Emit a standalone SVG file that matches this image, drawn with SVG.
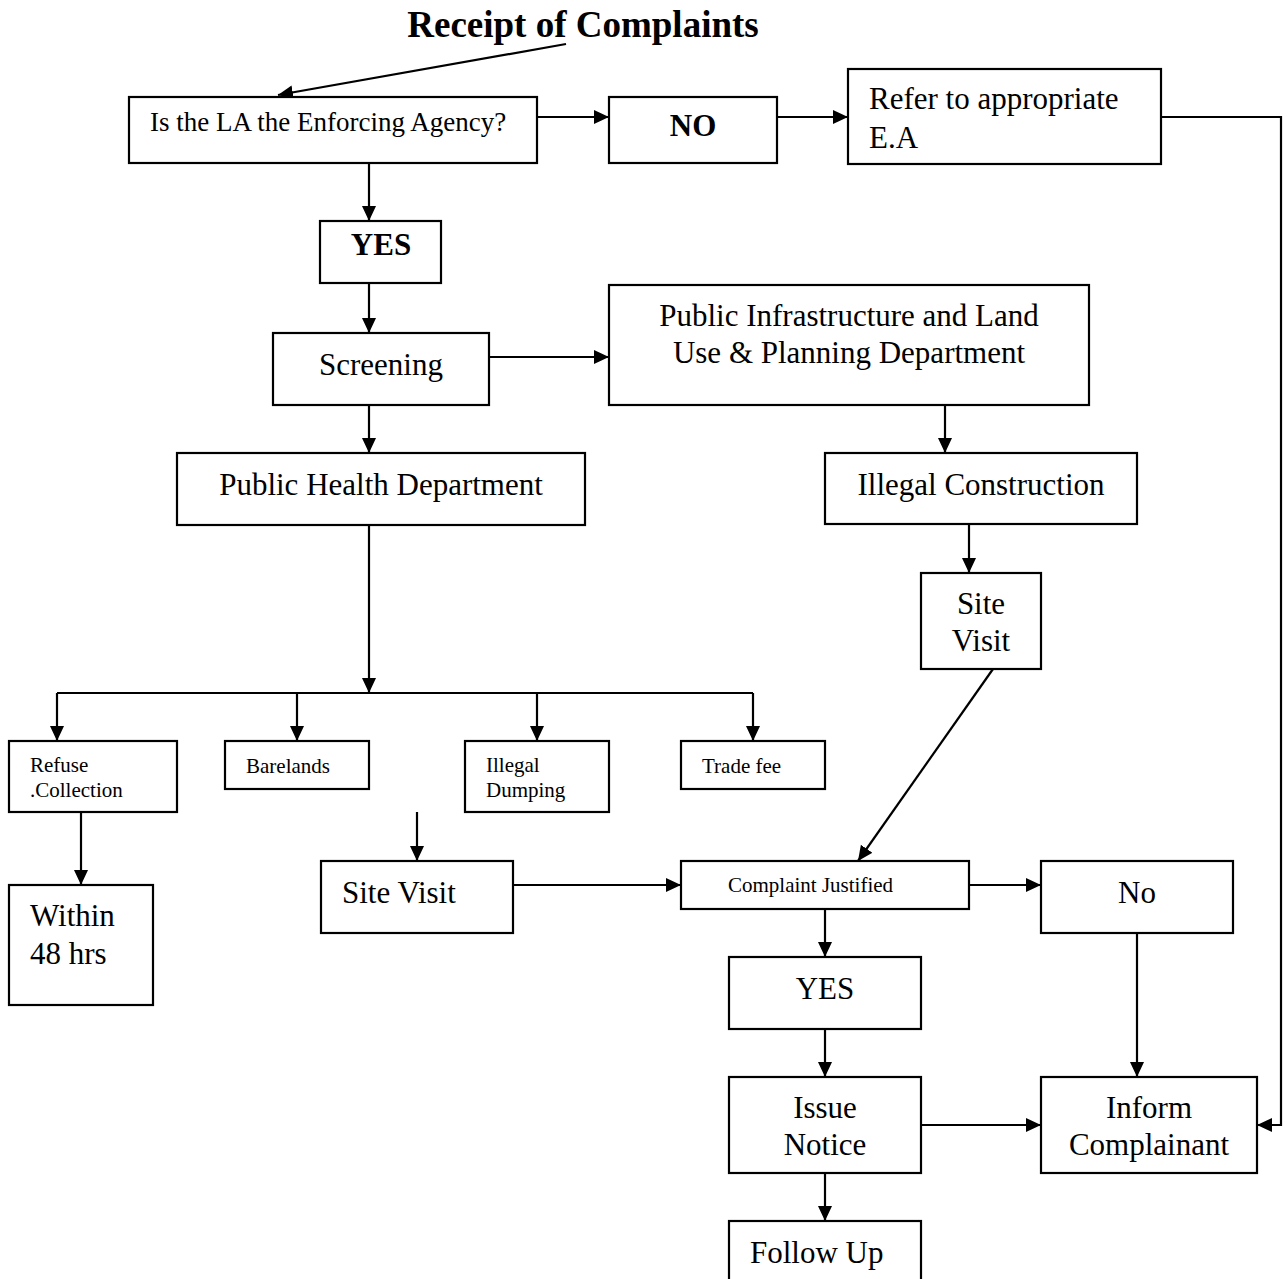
<svg xmlns="http://www.w3.org/2000/svg" width="1288" height="1279" viewBox="0 0 1288 1279">
<style>
rect{fill:#fff;stroke:#000;stroke-width:2.2}
text{font-family:"Liberation Serif","Times New Roman",serif;fill:#000}
.m{font-size:31px}
.s{font-size:21px}
.b{font-weight:bold}
.c{text-anchor:middle}
.ln{fill:none;stroke:#000;stroke-width:2.2}
</style>
<defs>
<marker id="ah" markerUnits="userSpaceOnUse" markerWidth="17" markerHeight="16" refX="15" refY="7" orient="auto"><path d="M0,0 L15,7 L0,14 Z" fill="#000"/></marker>
</defs>
<rect x="0" y="0" width="1288" height="1279" style="stroke:none"/>
<text class="b c" x="583" y="37" style="font-size:37px">Receipt of Complaints</text>
<g id="connectors">
<path class="ln" d="M566,44 L278,95" marker-end="url(#ah)"/>
<path class="ln" d="M537,117 L609,117" marker-end="url(#ah)"/>
<path class="ln" d="M777,117 L848,117" marker-end="url(#ah)"/>
<path class="ln" d="M1161,117 L1281,117 L1281,1125 L1257,1125" marker-end="url(#ah)"/>
<path class="ln" d="M369,163 L369,221" marker-end="url(#ah)"/>
<path class="ln" d="M369,283 L369,333" marker-end="url(#ah)"/>
<path class="ln" d="M489,357 L609,357" marker-end="url(#ah)"/>
<path class="ln" d="M369,405 L369,453" marker-end="url(#ah)"/>
<path class="ln" d="M945,405 L945,453" marker-end="url(#ah)"/>
<path class="ln" d="M969,525 L969,573" marker-end="url(#ah)"/>
<path class="ln" d="M369,525 L369,693" marker-end="url(#ah)"/>
<path class="ln" d="M57,693 L753,693"/>
<path class="ln" d="M57,693 L57,741" marker-end="url(#ah)"/>
<path class="ln" d="M297,693 L297,741" marker-end="url(#ah)"/>
<path class="ln" d="M537,693 L537,741" marker-end="url(#ah)"/>
<path class="ln" d="M753,693 L753,741" marker-end="url(#ah)"/>
<path class="ln" d="M81,812 L81,885" marker-end="url(#ah)"/>
<path class="ln" d="M417,812 L417,861" marker-end="url(#ah)"/>
<path class="ln" d="M993,669 L858,861" marker-end="url(#ah)"/>
<path class="ln" d="M513,885 L681,885" marker-end="url(#ah)"/>
<path class="ln" d="M969,885 L1041,885" marker-end="url(#ah)"/>
<path class="ln" d="M825,909 L825,957" marker-end="url(#ah)"/>
<path class="ln" d="M825,1029 L825,1077" marker-end="url(#ah)"/>
<path class="ln" d="M1137,933 L1137,1077" marker-end="url(#ah)"/>
<path class="ln" d="M921,1125 L1041,1125" marker-end="url(#ah)"/>
<path class="ln" d="M825,1173 L825,1221" marker-end="url(#ah)"/>
</g>
<g id="q"><rect x="129" y="97" width="408" height="66"/><text x="150" y="131" style="font-size:27px">Is the LA the Enforcing Agency?</text></g>
<g id="no1"><rect x="609" y="97" width="168" height="66"/><text class="m b c" x="693" y="136">NO</text></g>
<g id="refer"><rect x="848" y="69" width="313" height="95"/><text class="m" x="869" y="109">Refer to appropriate</text><text class="m" x="869" y="148">E.A</text></g>
<g id="yes1"><rect x="320" y="221" width="121" height="62"/><text class="m b c" x="381" y="255">YES</text></g>
<g id="screening"><rect x="273" y="333" width="216" height="72"/><text class="m c" x="381" y="375">Screening</text></g>
<g id="infra"><rect x="609" y="285" width="480" height="120"/><text class="m c" x="849" y="326">Public Infrastructure and Land</text><text class="m c" x="849" y="363">Use &amp; Planning Department</text></g>
<g id="health"><rect x="177" y="453" width="408" height="72"/><text class="m c" x="381" y="495">Public Health Department</text></g>
<g id="illegalc"><rect x="825" y="453" width="312" height="71"/><text class="m c" x="981" y="495">Illegal Construction</text></g>
<g id="sitevisit1"><rect x="921" y="573" width="120" height="96"/><text class="m c" x="981" y="614">Site</text><text class="m c" x="981" y="651">Visit</text></g>
<g id="refuse"><rect x="9" y="741" width="168" height="71"/><text class="s" x="30" y="772">Refuse</text><text class="s" x="30" y="797">.Collection</text></g>
<g id="barelands"><rect x="225" y="741" width="144" height="48"/><text class="s" x="246" y="773">Barelands</text></g>
<g id="dumping"><rect x="465" y="741" width="144" height="71"/><text class="s" x="486" y="772">Illegal</text><text class="s" x="486" y="797">Dumping</text></g>
<g id="tradefee"><rect x="681" y="741" width="144" height="48"/><text class="s" x="702" y="773">Trade fee</text></g>
<g id="within"><rect x="9" y="885" width="144" height="120"/><text class="m" x="30" y="926">Within</text><text class="m" x="30" y="964">48 hrs</text></g>
<g id="sitevisit2"><rect x="321" y="861" width="192" height="72"/><text class="m" x="342" y="903">Site Visit</text></g>
<g id="justified"><rect x="681" y="861" width="288" height="48"/><text class="s" x="728" y="892">Complaint Justified</text></g>
<g id="no2"><rect x="1041" y="861" width="192" height="72"/><text class="m c" x="1137" y="903">No</text></g>
<g id="yes2"><rect x="729" y="957" width="192" height="72"/><text class="m c" x="825" y="999">YES</text></g>
<g id="issue"><rect x="729" y="1077" width="192" height="96"/><text class="m c" x="825" y="1118">Issue</text><text class="m c" x="825" y="1155">Notice</text></g>
<g id="inform"><rect x="1041" y="1077" width="216" height="96"/><text class="m c" x="1149" y="1118">Inform</text><text class="m c" x="1149" y="1155">Complainant</text></g>
<g id="followup"><rect x="729" y="1221" width="192" height="80"/><text class="m" x="750" y="1263">Follow Up</text></g>
</svg>
